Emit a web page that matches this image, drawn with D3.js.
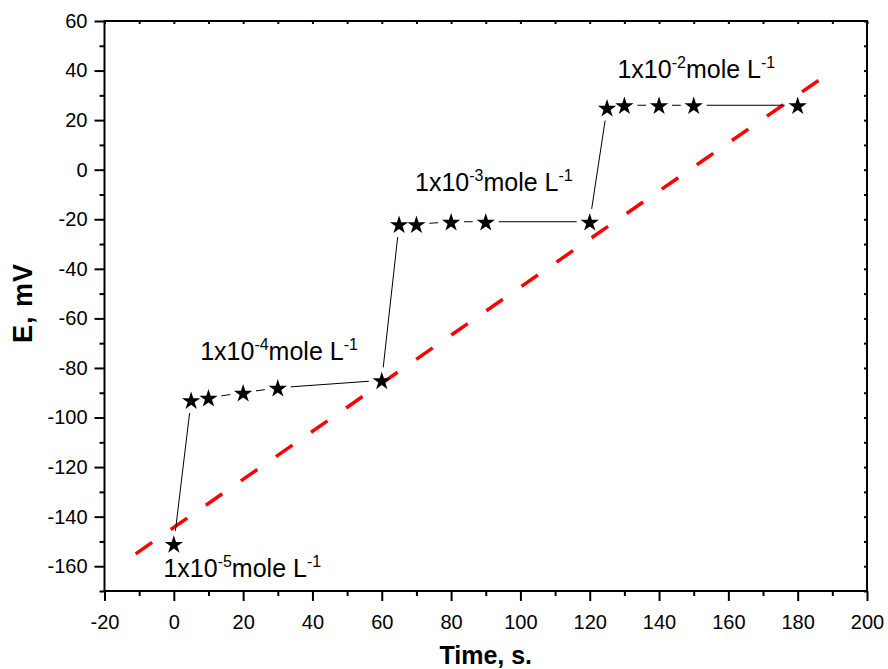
<!DOCTYPE html>
<html>
<head>
<meta charset="utf-8">
<script src="https://cdn.jsdelivr.net/npm/d3@7"></script>
<style>
  body { margin: 0; background: #fff; }
  svg { display: block; font-family: Arial, "Liberation Sans", sans-serif; }
  .tick text { font-size: 20px; fill: #000; }
</style>
</head>
<body>
<div id="chart"></div>
<script>
// measured points (time in s, potential in mV)
const times = [0, 5, 10, 20, 30, 60, 65, 70, 80, 90, 120, 125, 130, 140, 150, 180];
const potentials = [-151, -93, -92, -90, -88, -85, -22, -22, -21, -21, -21, 25, 26, 26, 26, 26];

// red dashed reference line, end points
const fitX = [-11, 186];
const fitY = [-155, 36];

// concentration labels: exponent and anchor in data units
const labelExp = ['-5', '-4', '-3', '-2'];
const labelX = [-3, 7.6, 69.6, 128];
const labelY = [-164.5, -76.7, -8.4, 37];

const xTicks = d3.range(-20, 201, 20);
const yTicks = d3.range(-160, 61, 20);

function drawChart() {
  const width = 888;
  const height = 669;
  const margin = { top: 21, right: 21, bottom: 78, left: 104.5 };

  const svg = d3.select('#chart')
    .append('svg')
    .attr('width', width)
    .attr('height', height);

  const xScale = d3.scaleLinear()
    .domain([-20, 200])
    .range([margin.left, width - margin.right]);
  const yScale = d3.scaleLinear()
    .domain([-170, 60])
    .range([height - margin.bottom, margin.top]);

  const bottom = height - margin.bottom;
  const right = width - margin.right;

  // minor ticks (every 10)
  const xMinor = d3.range(-10, 200, 20);
  const yMinor = d3.range(-170, 60, 20);

  svg.append('g')
    .attr('transform', `translate(0, ${bottom})`)
    .call(d3.axisBottom(xScale).tickValues(xMinor).tickSize(5).tickFormat(''));
  svg.append('g')
    .attr('transform', `translate(${margin.left}, 0)`)
    .call(d3.axisLeft(yScale).tickValues(yMinor).tickSize(5).tickFormat(''));

  svg.append('g')
    .attr('transform', `translate(0, ${bottom})`)
    .call(d3.axisBottom(xScale).tickValues(xTicks).tickSize(10).tickSizeOuter(0)
      .tickPadding(14).tickFormat((d) => String(d)));
  svg.append('g')
    .attr('transform', `translate(${margin.left}, 0)`)
    .call(d3.axisLeft(yScale).tickValues(yTicks).tickSize(10).tickSizeOuter(0)
      .tickPadding(7).tickFormat((d) => String(d)));

  // top and right axes: small inward ticks, no labels
  svg.append('g')
    .attr('transform', `translate(0, ${margin.top})`)
    .call(d3.axisBottom(xScale).tickValues(d3.range(-20, 201, 10)).tickSize(3).tickFormat(''));
  svg.append('g')
    .attr('transform', `translate(${right}, 0)`)
    .call(d3.axisLeft(yScale).tickValues(d3.range(-170, 61, 10)).tickSize(3).tickFormat(''));

  svg.selectAll('.domain').remove();
  svg.selectAll('.tick line').attr('stroke', '#000').attr('stroke-width', 2);

  // frame
  svg.append('rect')
    .attr('x', margin.left)
    .attr('y', margin.top)
    .attr('width', right - margin.left)
    .attr('height', bottom - margin.top)
    .attr('fill', 'none')
    .attr('stroke', '#000')
    .attr('stroke-width', 2);

  // axis titles
  svg.append('text')
    .attr('x', (margin.left + right) / 2)
    .attr('y', 664)
    .attr('text-anchor', 'middle')
    .attr('font-size', 25)
    .attr('font-weight', 'bold')
    .text('Time, s.');

  svg.append('text')
    .attr('transform', `translate(32, 303) rotate(-90)`)
    .attr('text-anchor', 'middle')
    .attr('font-size', 27)
    .attr('font-weight', 'bold')
    .attr('letter-spacing', 1)
    .text('E, mV');

  // red dashed line, dash pattern fitted so both ends are full dashes
  const x1 = xScale(fitX[0]), y1 = yScale(fitY[0]);
  const x2 = xScale(fitX[1]), y2 = yScale(fitY[1]);
  const fitLen = Math.hypot(x2 - x1, y2 - y1);
  const dash = 20;
  const n = Math.round((fitLen - dash) / 42);
  const gapLen = (fitLen - dash) / n - dash;

  svg.append('line')
    .attr('x1', x1)
    .attr('y1', y1)
    .attr('x2', x2)
    .attr('y2', y2)
    .attr('stroke', '#ff0000')
    .attr('stroke-width', 3.5)
    .attr('stroke-dasharray', `${dash},${gapLen}`);

  // connecting line with gaps around the symbols
  const pts = times.map((t, i) => [xScale(t), yScale(potentials[i])]);
  const gap = 13;
  const segs = d3.pairs(pts)
    .map(([a, b]) => {
      const dx = b[0] - a[0];
      const dy = b[1] - a[1];
      const len = Math.hypot(dx, dy);
      if (len <= 2 * gap) return null;
      const ux = dx / len, uy = dy / len;
      return [a[0] + ux * gap, a[1] + uy * gap, b[0] - ux * gap, b[1] - uy * gap];
    })
    .filter((d) => d);

  svg.append('g')
    .selectAll('line')
    .data(segs)
    .join('line')
    .attr('x1', (d) => d[0])
    .attr('y1', (d) => d[1])
    .attr('x2', (d) => d[2])
    .attr('y2', (d) => d[3])
    .attr('stroke', '#000')
    .attr('stroke-width', 1);

  // star symbols
  const star = d3.symbol().type(d3.symbolStar).size(105);
  svg.append('g')
    .selectAll('path')
    .data(pts)
    .join('path')
    .attr('transform', (d) => `translate(${d[0]}, ${d[1] + 1})`)
    .attr('d', star)
    .attr('fill', '#000');

  // concentration labels
  const labels = svg.append('g')
    .selectAll('text')
    .data(labelExp)
    .join('text')
    .attr('x', (d, i) => xScale(labelX[i]))
    .attr('y', (d, i) => yScale(labelY[i]))
    .attr('font-size', 25);

  labels.append('tspan').text('1x10');
  labels.append('tspan').attr('font-size', 16).attr('dy', -10).text((d) => d);
  labels.append('tspan').attr('dy', 10).text('mole L');
  labels.append('tspan').attr('font-size', 16).attr('dy', -10).text('-1');
}

drawChart();
</script>
</body>
</html>
